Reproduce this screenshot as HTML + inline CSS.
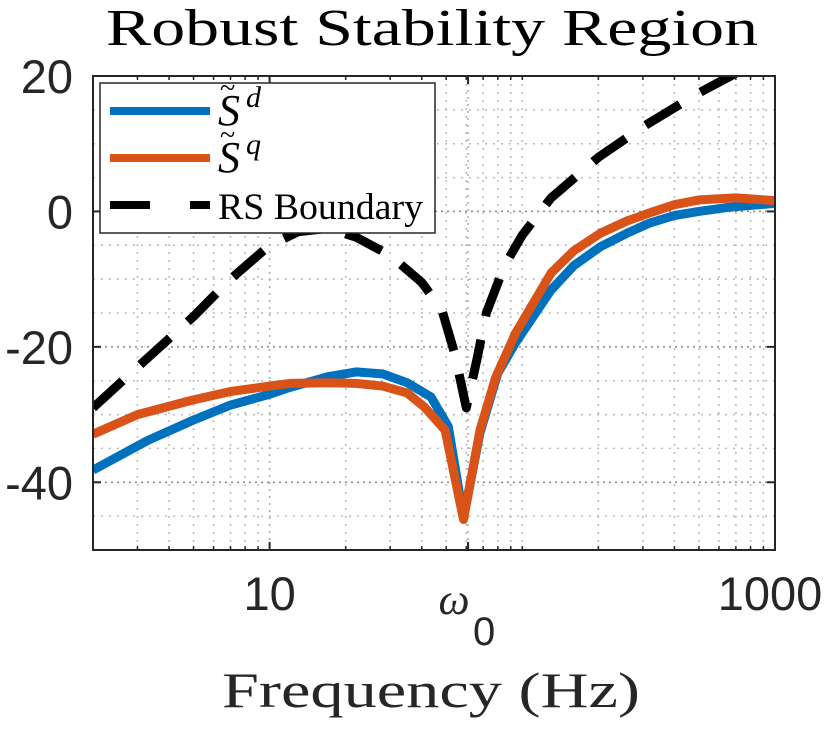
<!DOCTYPE html>
<html><head><meta charset="utf-8"><style>
body{margin:0;background:#fff}
svg{display:block}
</style></head><body>
<svg id="chart" width="830" height="730" viewBox="0 0 830 730" xmlns="http://www.w3.org/2000/svg">
<text x="106" y="45" textLength="652" lengthAdjust="spacingAndGlyphs" font-family="Liberation Serif, serif" font-size="52" fill="#000">Robust Stability Region</text>
<text x="222" y="707" textLength="418" lengthAdjust="spacingAndGlyphs" font-family="Liberation Serif, serif" font-size="50" fill="#262626">Frequency (Hz)</text>
<g id="grid"></g>
<g id="series"></g>
<g id="axes"></g>
<g id="legend"></g>
</svg>
<script>
const freqD=[2,3.3,5,7,10,12,17,22,28,35,43.5,51,58.5,68,80,94,130,160,204,260,320,400,500,650,870,1000];
const valD=[-38.2,-33.8,-30.8,-28.6,-27,-26,-24.4,-23.7,-24,-25.3,-27.4,-31.8,-45.3,-32.7,-23.9,-19.4,-11.6,-8,-5.2,-3.2,-1.7,-0.6,0,0.6,1,1.2];
const freqQ=[2,3,4.9,7,10,12,17,22,28,35,41,49.5,58.5,68,78.5,94,130,160,204,260,320,400,500,700,1000];
const valQ=[-32.9,-30,-27.9,-26.6,-25.8,-25.4,-25.3,-25.4,-25.8,-26.8,-28.9,-32.3,-45.5,-32.3,-24.5,-18,-9.1,-5.8,-3.2,-1.4,-0.2,1,1.7,2,1.6];
const freqRS=[2,3,5,7,10,13,17,22,30,40,48,54,60,66,72,85,100,130,200,300,500,750];
const valRS=[-29,-23,-15.5,-10,-5,-3,-2.5,-3.8,-6.5,-10.5,-14.5,-21,-29,-22,-15,-8,-3.5,2,8,12.5,17.5,21];
const yTicks=[20,0,-20,-40];
const yMinor=[15,10,5,-5,-10,-15,-25,-30,-35,-45];
const xMajor=[10,1000];
const xLabels=["10","1000"];
const xMinor=[3,4,5,6,7,8,9,20,30,40,50,60,70,80,90,100,200,300,400,500,600,700,800,900];
const omega0=61;

const L=93,R=775,T=76,B=550;
const xMin=2,xMax=1000,yMin=-50,yMax=20;
const xs=f=>L+(Math.log10(f)-Math.log10(xMin))/(Math.log10(xMax)-Math.log10(xMin))*(R-L);
const ys=v=>B-(v-yMin)/(yMax-yMin)*(B-T);
const NS="http://www.w3.org/2000/svg";
function mk(tag,attrs,parent){const e=document.createElementNS(NS,tag);for(const k in attrs)e.setAttribute(k,attrs[k]);parent.appendChild(e);return e;}
const grid=document.getElementById('grid'),series=document.getElementById('series'),axes=document.getElementById('axes'),legend=document.getElementById('legend');

xMinor.forEach(f=>{const x=xs(f);const l=mk('line',{x1:x,x2:x,y1:T,y2:B,stroke:'#b8b8b8','stroke-width':1.5,'stroke-dasharray':'2 6'},grid);

});
yMinor.forEach(v=>{const y=ys(v);const l=mk('line',{x1:L,x2:R,y1:y,y2:y,stroke:'#b8b8b8','stroke-width':1.5,'stroke-dasharray':'2 6'},grid);

});
xMajor.concat([omega0]).forEach(f=>{const x=xs(f);const l=mk('line',{x1:x,x2:x,y1:T,y2:B,stroke:'#aaa','stroke-width':1.5,'stroke-dasharray':'2 5'},grid);

});
yTicks.forEach(v=>{const y=ys(v);const l=mk('line',{x1:L,x2:R,y1:y,y2:y,stroke:'#888','stroke-width':1.5,'stroke-dasharray':'2 4'},grid);

});

const cp=mk('clipPath',{id:'clip'},document.getElementById('chart'));
mk('rect',{x:L,y:T,width:R-L,height:B-T},cp);
function path(fr,vals,color,dash,name){
  const d=fr.map((f,i)=>(i?'L':'M')+xs(f).toFixed(1)+' '+ys(vals[i]).toFixed(1)).join(' ');
  const p=mk('path',{d:d,fill:'none',stroke:color,'stroke-width':9,'stroke-linejoin':'round','clip-path':'url(#clip)'},series);
  if(dash)p.setAttribute('stroke-dasharray',dash);
  
  
}
path(freqD,valD,'#0072BD',null,'series-sd-line');
path(freqQ,valQ,'#D95319',null,'series-sq-line');
path(freqRS,valRS,'#000','40 24','rs-boundary-line');

mk('rect',{x:L,y:T,width:R-L,height:B-T,fill:'none',stroke:'#262626','stroke-width':2},axes);
xMajor.concat([omega0]).forEach(f=>{const x=xs(f);mk('line',{x1:x,x2:x,y1:B,y2:B-8,stroke:'#262626','stroke-width':2},axes);mk('line',{x1:x,x2:x,y1:T,y2:T+8,stroke:'#262626','stroke-width':2},axes);});
xMinor.forEach(f=>{const x=xs(f);mk('line',{x1:x,x2:x,y1:B,y2:B-4,stroke:'#262626','stroke-width':1.5},axes);mk('line',{x1:x,x2:x,y1:T,y2:T+4,stroke:'#262626','stroke-width':1.5},axes);});
yTicks.forEach(v=>{const y=ys(v);mk('line',{x1:L,x2:L+8,y1:y,y2:y,stroke:'#262626','stroke-width':2},axes);mk('line',{x1:R,x2:R-8,y1:y,y2:y,stroke:'#262626','stroke-width':2},axes);
const t=mk('text',{x:L-20,y:y+17,'text-anchor':'end','font-family':'Liberation Sans, sans-serif','font-size':47,fill:'#262626'},axes);t.textContent=(v<0?'-':'')+Math.abs(v);

});
xMajor.forEach((f,i)=>{const t=mk('text',{x:Math.min(xs(f),770),y:610,'text-anchor':'middle','font-family':'Liberation Sans, sans-serif','font-size':47,fill:'#262626'},axes);t.textContent=xLabels[i];

});
const om=mk('text',{x:xs(omega0)-14,y:614,'text-anchor':'middle','font-family':'Liberation Serif, serif','font-style':'italic','font-size':44,fill:'#262626'},axes);om.textContent='ω';


const om0=mk('text',{x:xs(omega0)+16,y:645,'text-anchor':'middle','font-family':'Liberation Sans, sans-serif','font-size':40,fill:'#262626'},axes);om0.textContent='0';



mk('rect',{x:100,y:83,width:335,height:150,fill:'#fff',stroke:'#262626','stroke-width':1.5},legend);
const ent=[['#0072BD',null,111,'S','d'],['#D95319',null,158,'S','q'],['#000','40 40',205,'RS Boundary','']];
ent.forEach(e=>{const l=mk('line',{x1:110,x2:210,y1:e[2],y2:e[2],stroke:e[0],'stroke-width':8},legend);if(e[1])l.setAttribute('stroke-dasharray','40 40');


const t=mk('text',{x:218,y:e[2]+14,'font-family':'Liberation Serif, serif','font-size':e[4]?44:37,fill:'#000','font-style':e[4]?'italic':'normal'},legend);t.textContent=e[3];
if(!e[4]){t.setAttribute('textLength','205');t.setAttribute('lengthAdjust','spacingAndGlyphs');}


if(e[4]){const s=mk('text',{x:246,y:e[2]-4,'font-family':'Liberation Serif, serif','font-style':'italic','font-size':30,fill:'#000'},legend);s.textContent=e[4];
const tl=mk('text',{x:220,y:e[2]-14,'font-family':'Liberation Serif, serif','font-size':28,fill:'#000'},legend);tl.textContent='~';}});
</script>
</body></html>
